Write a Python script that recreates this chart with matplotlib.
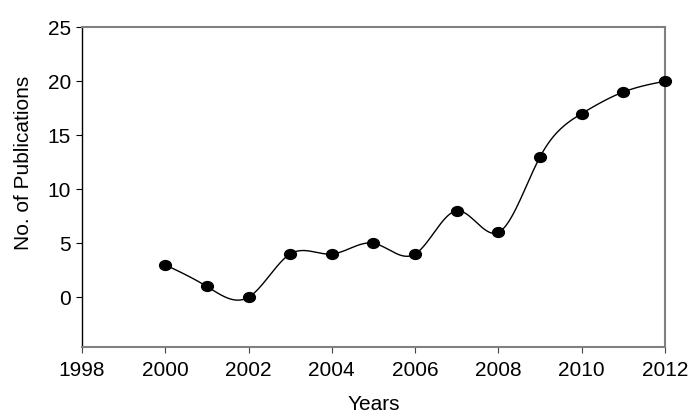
import numpy as np
import matplotlib
matplotlib.use('Agg')
from matplotlib import pyplot as plt
from matplotlib.path import Path
from matplotlib.transforms import Affine2D

years = [2000, 2001, 2002, 2003, 2004, 2005, 2006, 2007, 2008, 2009, 2010, 2011, 2012]
publications = [3, 1, 0, 4, 4, 5, 4, 8, 6, 13, 17, 19, 20]

x_ticks = [1998, 2000, 2002, 2004, 2006, 2008, 2010, 2012]
y_ticks = [0, 5, 10, 15, 20, 25]


def natural_spline(x, y, n=400):
    # natural cubic spline through the points
    x = np.asarray(x, float)
    y = np.asarray(y, float)
    k = len(x)
    h = np.diff(x)
    a = np.zeros((k, k))
    b = np.zeros(k)
    a[0, 0] = a[-1, -1] = 1
    for i in range(1, k - 1):
        a[i, i - 1] = h[i - 1]
        a[i, i] = 2 * (h[i - 1] + h[i])
        a[i, i + 1] = h[i]
        b[i] = 3 * ((y[i + 1] - y[i]) / h[i] - (y[i] - y[i - 1]) / h[i - 1])
    c = np.linalg.solve(a, b)
    xs = np.linspace(x[0], x[-1], n)
    idx = np.clip(np.searchsorted(x, xs) - 1, 0, k - 2)
    dx = xs - x[idx]
    hi = h[idx]
    bb = (y[idx + 1] - y[idx]) / hi - hi * (2 * c[idx] + c[idx + 1]) / 3
    dd = (c[idx + 1] - c[idx]) / (3 * hi)
    ys = y[idx] + bb * dx + c[idx] * dx ** 2 + dd * dx ** 3
    return xs, ys


plt.rcParams['font.family'] = ['Liberation Sans', 'DejaVu Sans']

fig = plt.figure(figsize=(7.0, 4.18), dpi=100)
ax = fig.add_axes([0.117, 0.170, 0.833, 0.765])

xs, ys = natural_spline(years, publications)
ax.plot(xs, ys, color='black', linewidth=1.0)

ellipse = Path.unit_circle().transformed(Affine2D().scale(1.2, 1.0))
ax.plot(years, publications, linestyle='none', marker=ellipse, markersize=8.5,
        color='black', clip_on=False, zorder=3)

ax.set_xlim(1998, 2012)
ax.set_ylim(-4.6, 25)
ax.set_xticks(x_ticks)
ax.set_yticks(y_ticks)

ax.tick_params(direction='out', length=4, width=0.8, labelsize=15, colors='black', pad=4)
ax.tick_params(axis='x', color='#444444', pad=6)

for side in ('top', 'right', 'bottom'):
    ax.spines[side].set_color('#808080')
    ax.spines[side].set_linewidth(1.5)
ax.spines['left'].set_color('black')
ax.spines['left'].set_linewidth(1.0)

ax.set_xlabel('Years', fontsize=15, labelpad=11)
ax.set_ylabel('No. of Publications', fontsize=15)
ax.yaxis.set_label_coords(-0.084, 0.575)

fig.savefig('out.png', dpi=100)
